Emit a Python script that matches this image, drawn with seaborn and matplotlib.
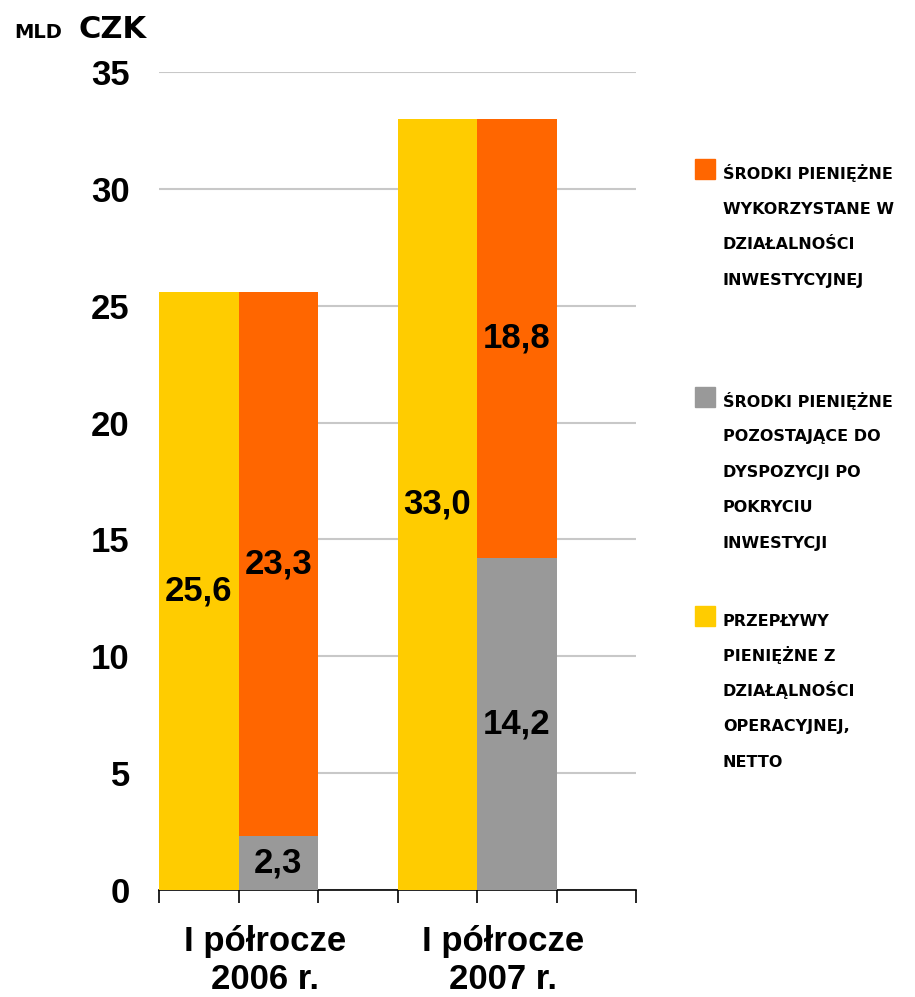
import numpy as np
import pandas as pd
import matplotlib
matplotlib.use("Agg")
import matplotlib.pyplot as plt
import matplotlib.patches as mpatches
from matplotlib.legend_handler import HandlerPatch
import seaborn as sns

# data (mld CZK)
periods = ["I półrocze\n2006 r.", "I półrocze\n2007 r."]
operating = [25.6, 33.0]      # przepływy z działalności operacyjnej
investing = [23.3, 18.8]      # wykorzystane w działalności inwestycyjnej
remaining = [2.3, 14.2]       # pozostające do dyspozycji

legend_labels = [
    ["ŚRODKI PIENIĘŻNE", "WYKORZYSTANE W", "DZIAŁALNOŚCI", "INWESTYCYJNEJ"],
    ["ŚRODKI PIENIĘŻNE", "POZOSTAJĄCE DO", "DYSPOZYCJI PO", "POKRYCIU", "INWESTYCJI"],
    ["PRZEPŁYWY", "PIENIĘŻNE Z", "DZIAŁĄLNOŚCI", "OPERACYJNEJ,", "NETTO"],
]

YELLOW = "#FFCC00"
ORANGE = "#FF6600"
GRAY = "#999999"

sns.set_theme(style="white")
plt.rcParams["font.family"] = ["Liberation Sans", "DejaVu Sans"]
plt.rcParams["text.color"] = "black"
plt.rcParams["xtick.color"] = "black"
plt.rcParams["ytick.color"] = "black"

# slot layout: operating bar, stacked bar, empty slot per period
slots = []
for i in range(len(periods)):
    slots += [f"op{i}", f"st{i}", f"gap{i}"]

df = pd.DataFrame({
    "period": periods,
    "operating": operating,
    "investing": investing,
    "remaining": remaining,
})
df["total"] = df["investing"] + df["remaining"]
df["op_slot"] = [f"op{i}" for i in range(len(df))]
df["st_slot"] = [f"st{i}" for i in range(len(df))]

fig = plt.figure(figsize=(9.15, 9.97), dpi=100)
ax = fig.add_axes([159 / 915, 1 - 890 / 997, 477 / 915, 818 / 997])

sns.barplot(data=df, x="op_slot", y="operating", order=slots, color=YELLOW,
            saturation=1, width=1, ax=ax, linewidth=0, zorder=3)
sns.barplot(data=df, x="st_slot", y="total", order=slots, color=ORANGE,
            saturation=1, width=1, ax=ax, linewidth=0, zorder=3)
sns.barplot(data=df, x="st_slot", y="remaining", order=slots, color=GRAY,
            saturation=1, width=1, ax=ax, linewidth=0, zorder=4)

fmt = lambda v: f"{v:.1f}".replace(".", ",")
lab_kw = dict(ha="center", va="center", fontsize=25, fontweight="bold",
              color="black", zorder=5)
for i, row in df.iterrows():
    xo = slots.index(row["op_slot"])
    xs = slots.index(row["st_slot"])
    ax.text(xo, row["operating"] / 2, fmt(row["operating"]), **lab_kw)
    ax.text(xs, row["remaining"] / 2, fmt(row["remaining"]), **lab_kw)
    ax.text(xs, row["remaining"] + row["investing"] / 2, fmt(row["investing"]), **lab_kw)

ax.set_xlim(-0.5, len(slots) - 0.5)
ax.set_ylim(0, 35)
ax.set_yticks(np.arange(0, 36, 5))
ax.yaxis.grid(True, color="#C8C8C8", linewidth=1.5, zorder=0)
ax.set_axisbelow(True)
ax.set_xlabel("")
ax.set_ylabel("")

ax.set_xticks(np.arange(-0.5, len(slots), 1))
ax.set_xticklabels([])
ax.set_xticks([3 * i + 0.83 for i in range(len(periods))], minor=True)
ax.set_xticklabels(periods, minor=True, fontsize=25, fontweight="bold",
                   linespacing=1.2)
ax.tick_params(axis="x", which="major", direction="out", length=9, width=1.2,
               color="black", bottom=True)
ax.tick_params(axis="x", which="minor", length=0, pad=25)
ax.tick_params(axis="y", length=0, pad=21, labelsize=25)
for t in ax.get_yticklabels():
    t.set_fontweight("bold")

for s in ["top", "right", "left"]:
    ax.spines[s].set_visible(False)
ax.spines["bottom"].set_color("black")
ax.spines["bottom"].set_linewidth(1.2)

# unit label
fig.text(14 / 915, 1 - 38 / 997, "MLD", fontsize=14, fontweight="bold",
         family="DejaVu Sans", color="black", ha="left", va="baseline")
fig.text(78 / 915, 1 - 38 / 997, "CZK", fontsize=22, fontweight="bold",
         family="DejaVu Sans", color="black", ha="left", va="baseline")


# legend square sits on the baseline of the first text line
def square_on_baseline(legend, orig_handle, xdescent, ydescent, width, height, fontsize):
    return mpatches.Rectangle((-xdescent, 0), width, width,
                              facecolor=orig_handle.get_facecolor(), edgecolor="none")


handles = [mpatches.Patch(color=ORANGE), mpatches.Patch(color=GRAY),
           mpatches.Patch(color=YELLOW)]
first_baselines = [178, 406, 625]
line_step = 35.5
leg_fs = 11.5
px = 100 / 72
text_x = 695 + 1.25 * leg_fs * px + 0.5 * leg_fs * px
for h, lines, yb in zip(handles, legend_labels, first_baselines):
    ybottom = yb + 0.24 * leg_fs * px
    leg = fig.legend([h], [lines[0]], loc="lower left",
                     bbox_to_anchor=(695 / 915, 1 - ybottom / 997),
                     frameon=False, borderpad=0, borderaxespad=0,
                     handlelength=1.25, handleheight=0.7, handletextpad=0.5,
                     prop={"family": "DejaVu Sans", "weight": "bold", "size": leg_fs},
                     handler_map={h: HandlerPatch(patch_func=square_on_baseline)})
    for k, line in enumerate(lines[1:], start=1):
        fig.text(text_x / 915, 1 - (yb + k * line_step) / 997, line,
                 family="DejaVu Sans", fontweight="bold", fontsize=leg_fs,
                 color="black", ha="left", va="baseline")

fig.savefig("out.png", dpi=100)
